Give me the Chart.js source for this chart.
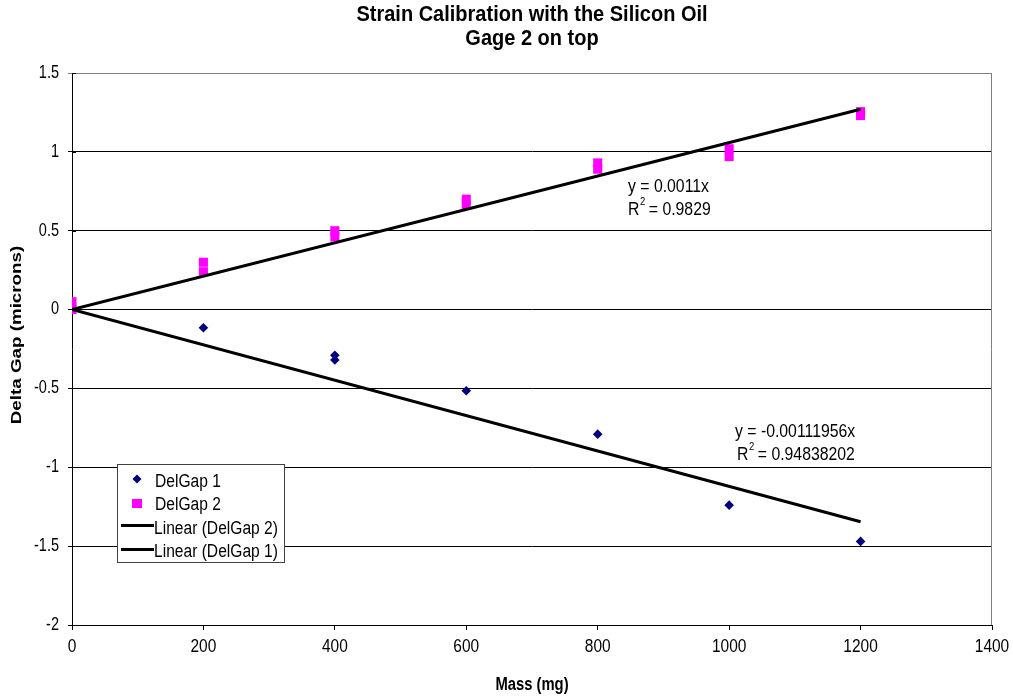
<!DOCTYPE html>
<html>
<head>
<meta charset="utf-8">
<script src="https://cdn.jsdelivr.net/npm/chart.js@4.4.1/dist/chart.umd.min.js"></script>
<style>
html,body{margin:0;padding:0;background:#fff;}
#wrap{width:1013px;height:696px;position:relative;}
</style>
</head>
<body>
<div id="wrap"><canvas id="c" width="1013" height="696"></canvas></div>
<script>
// ---- data ----
const gap1Mass = [0, 200, 400, 400, 600, 800, 1000, 1200];
const gap1Vals = [0, -0.115, -0.29, -0.32, -0.515, -0.79, -1.24, -1.47];
const gap2Mass = [0, 0, 200, 200, 400, 400, 600, 600, 800, 800, 1000, 1000, 1200, 1200];
const gap2Vals = [0.05, 0.0, 0.30, 0.24, 0.50, 0.46, 0.70, 0.66, 0.93, 0.89, 1.02, 0.97, 1.255, 1.23];
const trendMass = [0, 1200];
const trend2Vals = [0, 1.27];
const trend1Vals = [0, -1.345];
const xTicks = [0, 200, 400, 600, 800, 1000, 1200, 1400];
const xTickLabels = ['0', '200', '400', '600', '800', '1000', '1200', '1400'];
const yTicks = [1.5, 1, 0.5, 0, -0.5, -1, -1.5, -2];
const yTickLabels = ['1.5', '1', '0.5', '0', '-0.5', '-1', '-1.5', '-2'];
const titleLines = ['Strain Calibration with the Silicon Oil', 'Gage 2 on top'];
const xTitle = 'Mass (mg)';
const yTitle = 'Delta Gap (microns)';
const eq2 = ['y = 0.0011x', '0.9829'];
const eq1 = ['y = -0.00111956x', '0.94838202'];
const legendLabels = ['DelGap 1', 'DelGap 2', 'Linear (DelGap 2)', 'Linear (DelGap 1)'];

const pts = (xs, ys) => xs.map((x, i) => ({x: x, y: ys[i]}));
const FONT = '"Liberation Sans", Arial, sans-serif';
const SY = 1.22; // vertical stretch of the reference lettering

function txt(ctx, s, x, y, size, bold, align, sy) {
  ctx.save();
  ctx.translate(x, y);
  ctx.scale(1, sy || SY);
  ctx.font = (bold ? 'bold ' : '') + size + 'px ' + FONT;
  ctx.textAlign = align || 'left';
  ctx.textBaseline = 'middle';
  ctx.fillStyle = '#000';
  ctx.fillText(s, 0, 0);
  const w = ctx.measureText(s).width;
  ctx.restore();
  return w;
}

const overlay = {
  id: 'overlay',
  afterDraw(chart) {
    const ctx = chart.ctx;
    const a = chart.chartArea;
    const xs = chart.scales.x, ys = chart.scales.y;
    ctx.save();
    // plot border top/right
    ctx.strokeStyle = '#808080';
    ctx.lineWidth = 1;
    ctx.beginPath();
    ctx.moveTo(a.left, a.top + 0.5);
    ctx.lineTo(a.right - 0.5, a.top + 0.5);
    ctx.lineTo(a.right - 0.5, a.bottom);
    ctx.stroke();
    // y tick marks crossing inside
    ctx.strokeStyle = '#000';
    ctx.beginPath();
    yTicks.forEach(v => {
      const py = Math.round(ys.getPixelForValue(v)) + 0.5;
      ctx.moveTo(a.left, py); ctx.lineTo(a.left + 4, py);
    });
    ctx.stroke();

    // tick labels
    yTicks.forEach((v, i) => txt(ctx, yTickLabels[i], a.left - 13, ys.getPixelForValue(v), 14.5, false, 'right'));
    xTicks.forEach((v, i) => txt(ctx, xTickLabels[i], xs.getPixelForValue(v), 647, 15.5, false, 'center'));

    // title
    const cx = 532;
    txt(ctx, titleLines[0], cx, 15, 20, true, 'center', 1.08);
    txt(ctx, titleLines[1], cx, 39, 20, true, 'center', 1.08);

    // axis titles
    txt(ctx, xTitle, cx, 685, 14.8, true, 'center');
    ctx.save();
    ctx.translate(17, 335);
    ctx.scale(1, 1.27);
    ctx.rotate(-Math.PI / 2);
    ctx.font = 'bold 14.8px ' + FONT;
    ctx.textAlign = 'center';
    ctx.textBaseline = 'middle';
    ctx.fillStyle = '#000';
    ctx.fillText(yTitle, 0, 0);
    ctx.restore();

    // equations
    function eq(lines, x1, y1, x2, y2) {
      txt(ctx, lines[0], x1, y1, 15.8, false, 'left');
      const w = txt(ctx, 'R', x2, y2, 15.8, false, 'left');
      txt(ctx, '2', x2 + w + 0.5, y2 - 8, 9.5, false, 'left');
      txt(ctx, ' = ' + lines[1], x2 + w + 5, y2, 15.8, false, 'left');
    }
    eq(eq2, 628, 187, 628, 210);
    eq(eq1, 735, 432, 737, 455);

    // legend
    const lx = 117, ly = 464, lw = 167, lh = 98;
    ctx.fillStyle = '#fff';
    ctx.fillRect(lx, ly, lw, lh);
    ctx.strokeStyle = '#404040';
    ctx.lineWidth = 1;
    ctx.strokeRect(lx + 0.5, ly + 0.5, lw, lh);
    // diamond
    ctx.fillStyle = '#000080';
    ctx.beginPath();
    ctx.moveTo(137, 479 - 4.5); ctx.lineTo(141.5, 479); ctx.lineTo(137, 479 + 4.5); ctx.lineTo(132.5, 479);
    ctx.closePath(); ctx.fill();
    // square
    ctx.fillStyle = '#FF00FF';
    ctx.fillRect(132, 499, 10, 9);
    // lines
    ctx.strokeStyle = '#000';
    ctx.lineWidth = 3;
    ctx.beginPath();
    ctx.moveTo(121, 525.5); ctx.lineTo(154, 525.5);
    ctx.moveTo(121, 549.5); ctx.lineTo(154, 549.5);
    ctx.stroke();
    txt(ctx, legendLabels[0], 155, 482, 15.6, false, 'left');
    txt(ctx, legendLabels[1], 155, 505, 15.6, false, 'left');
    txt(ctx, legendLabels[2], 154, 529, 15.6, false, 'left');
    txt(ctx, legendLabels[3], 154, 552, 15.6, false, 'left');
    ctx.restore();
  }
};

new Chart(document.getElementById('c'), {
  type: 'scatter',
  data: {
    datasets: [
      {label: legendLabels[2], data: pts(trendMass, trend2Vals), showLine: true, borderColor: '#000', borderWidth: 3, pointRadius: 0, fill: false, order: 0},
      {label: legendLabels[3], data: pts(trendMass, trend1Vals), showLine: true, borderColor: '#000', borderWidth: 3, pointRadius: 0, fill: false, order: 0},
      {label: legendLabels[1], data: pts(gap2Mass, gap2Vals), pointStyle: 'rect', pointRadius: 6.4, backgroundColor: '#FF00FF', borderColor: '#FF00FF', borderWidth: 0, order: 1},
      {label: legendLabels[0], data: pts(gap1Mass, gap1Vals), pointStyle: 'rectRot', pointRadius: 4.8, backgroundColor: '#000080', borderColor: '#000080', borderWidth: 0, order: 2}
    ]
  },
  options: {
    responsive: false,
    animation: false,
    events: [],
    layout: {padding: {top: 73, right: 21, left: 0, bottom: 0}},
    plugins: {legend: {display: false}, tooltip: {enabled: false}, title: {display: false}},
    scales: {
      x: {
        type: 'linear', min: 0, max: 1400,
        afterFit: s => { s.height = 71; s.paddingLeft = 0; s.paddingRight = 0; },
        afterBuildTicks: s => { s.ticks = xTicks.map(v => ({value: v})); },
        ticks: {display: false},
        grid: {drawOnChartArea: false, drawTicks: true, tickLength: 5, color: '#000'},
        border: {color: '#000', width: 1}
      },
      y: {
        type: 'linear', min: -2, max: 1.5,
        afterFit: s => { s.width = 72; s.paddingTop = 0; s.paddingBottom = 0; },
        afterBuildTicks: s => { s.ticks = yTicks.map(v => ({value: v})); },
        ticks: {display: false},
        grid: {color: ctx => (ctx.tick && ctx.tick.value === 1.5) ? '#808080' : '#000', lineWidth: 1, drawTicks: true, tickLength: 4},
        border: {color: '#000', width: 1}
      }
    }
  },
  plugins: [overlay]
});
</script>
</body>
</html>
